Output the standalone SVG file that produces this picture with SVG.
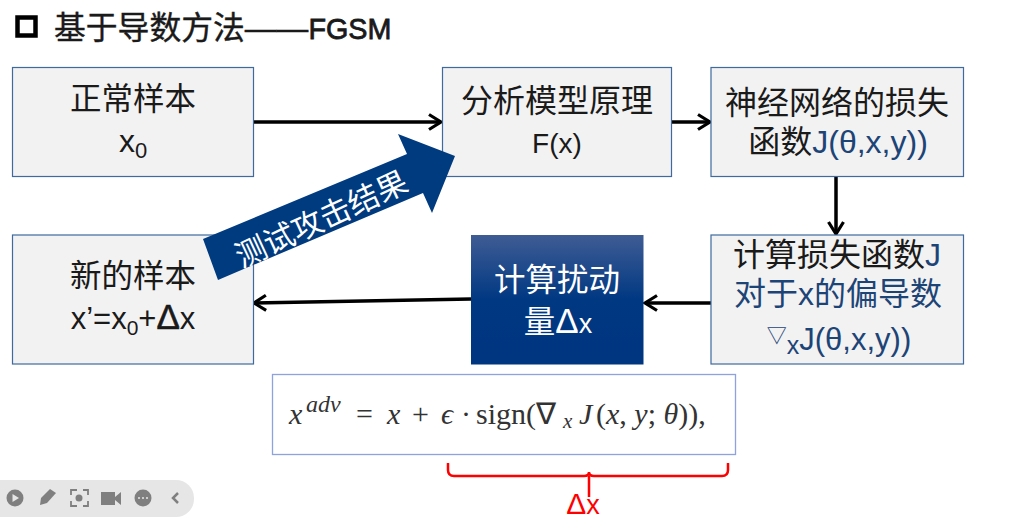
<svg xmlns="http://www.w3.org/2000/svg" width="1020" height="520" viewBox="0 0 1020 520">
<defs>
<linearGradient id="dk" x1="0" y1="0" x2="0" y2="1"><stop offset="0" stop-color="#3f5c94"/><stop offset="0.5" stop-color="#003882"/><stop offset="1" stop-color="#003580"/></linearGradient>
<marker id="ah" markerUnits="userSpaceOnUse" markerWidth="18" markerHeight="20" refX="15" refY="10" orient="auto"><path d="M3 2.500L15 10L3 17.500" fill="none" stroke="#000" stroke-width="3.200"/></marker>
</defs>
<style>
text{font-family:"Liberation Sans","Noto Sans CJK SC",sans-serif;fill:#1a1a1a;text-anchor:middle}
.box{fill:#f2f2f2;stroke:#3e6a9e;stroke-width:1.200}
.t{font-size:31.500px}
.blue{fill:#1d4477}
.c{fill:none;stroke:#000;stroke-width:3.500;marker-end:url(#ah)}
.w{fill:#fff}
.m{font-family:"Liberation Serif",serif;font-size:30px;fill:#333;text-anchor:start}
.i{font-style:italic}
.tb{fill:#7f7f7f}
</style>
<rect width="1020" height="520" fill="#fff"/>
<g id="title">
<rect x="17.500" y="17.500" width="18" height="18" fill="none" stroke="#000" stroke-width="4.500"/>
<text x="54" y="39" font-size="31.800" style="text-anchor:start;stroke:#1a1a1a;stroke-width:.4">基于导数方法——<tspan font-size="30" textLength="83" lengthAdjust="spacingAndGlyphs" style="stroke-width:.8">FGSM</tspan></text>
</g>
<g id="connectors">
<path class="c" d="M254 122H441"/>
<path class="c" d="M672 122H710"/>
<path class="c" d="M836 177V234"/>
<path class="c" d="M711 303H645"/>
<path class="c" d="M471 299L254 303"/>
</g>
<g id="normal-sample">
<rect class="box" x="12.500" y="67.500" width="241" height="109"/>
<text class="t" x="133" y="110">正常样本</text>
<text class="t" x="133" y="152" style="font-size:32px">x<tspan font-size="22" dy="6">0</tspan></text>
</g>
<g id="model">
<rect class="box" x="442.500" y="67.500" width="229" height="109"/>
<text class="t" x="557" y="112" style="font-size:32px">分析模型原理</text>
<text class="t" x="557" y="153" style="font-size:28px">F(x)</text>
</g>
<g id="loss">
<rect class="box" x="711" y="67.500" width="252.500" height="109"/>
<text class="t" x="837" y="114" style="font-size:32px">神经网络的损失</text>
<text class="t" x="838" y="153" style="font-size:32px">函数<tspan class="blue">J(θ,x,y))</tspan></text>
</g>
<g id="gradient">
<rect class="box" x="711" y="235" width="252.500" height="129"/>
<text class="t" x="837" y="266" style="font-size:32px">计算损失函数<tspan class="blue">J</tspan></text>
<text class="t blue" x="838" y="305" style="font-size:32px">对于x的偏导数</text>
<text class="t" x="839" y="350" style="font-size:31px"><tspan class="blue" font-size="20" dy="-7">▽</tspan><tspan class="blue" font-size="25" dy="11">x</tspan><tspan class="blue" dy="-4">J(θ,x,y))</tspan></text>
</g>
<g id="perturbation">
<rect x="471" y="235" width="172.500" height="129.500" fill="url(#dk)"/>
<text class="t w" x="557" y="291">计算扰动</text>
<text class="t w" x="558" y="333">量<tspan font-size="35">Δ</tspan><tspan font-size="27">x</tspan></text>
</g>
<g id="new-sample">
<rect class="box" x="12.500" y="235" width="241" height="129"/>
<text class="t" x="133" y="287">新的样本</text>
<text class="t" x="133" y="329" style="font-size:31px">x’=x<tspan font-size="21" dy="6">0</tspan><tspan dy="-6">+</tspan><tspan font-size="35" style="stroke:#1a1a1a;stroke-width:.6">Δ</tspan>x</text>
</g>
<g id="test-arrow">
<polygon points="203,239 407,154 398,134 455,156 432,213 423,193 218,280" fill="#003b80"/>
<text class="w" font-size="31" transform="translate(326 229) rotate(-25)">测试攻击结果</text>
</g>
<g id="formula">
<rect x="272.500" y="374.500" width="463" height="80" fill="#fff" stroke="#8ea2de" stroke-width="1.300"/>
<text class="m" x="289" y="424"><tspan class="i">x</tspan><tspan class="i" font-size="24" dy="-12" x="306">adv</tspan><tspan dy="12" x="356">=</tspan><tspan class="i" x="387">x</tspan><tspan x="412">+</tspan><tspan class="i" x="441">ϵ</tspan><tspan x="461">·</tspan><tspan x="476">sign(∇</tspan><tspan class="i" font-size="21" dy="4" x="563">x</tspan><tspan class="i" dy="-4" x="579">J</tspan><tspan x="596">(</tspan><tspan class="i">x</tspan><tspan>, </tspan><tspan class="i">y</tspan><tspan>; </tspan><tspan class="i">θ</tspan><tspan>)),</tspan></text>
</g>
<g id="delta-brace">
<path d="M448 463V470Q448 476 454 476H584Q589 476 589 472Q589 476 594 476H722Q728 476 728 470V463M589 476V497" fill="none" stroke="#f00" stroke-width="2.500"/>
<text x="583" y="514" font-size="30" style="fill:#f00">Δ<tspan font-size="27">x</tspan></text>
</g>
<g id="toolbar">
<rect x="-20" y="480" width="214" height="37" rx="18" fill="#e6e6e6"/>
<circle cx="15" cy="498" r="8.500" class="tb"/><path d="M12.500 494L19 498L12.500 502Z" fill="#e6e6e6"/>
<path d="M40 505L41 498L50 489L56 493L47 503Z" class="tb"/>
<path d="M71 495V490H77M83 490H88V495M88 501V506H83M77 506H71V501" fill="none" stroke="#7f7f7f" stroke-width="1.800"/><circle cx="79" cy="498" r="3.500" class="tb"/>
<path d="M101 492H115V497L121 492V505L115 500V505H101Z" class="tb"/>
<circle cx="143" cy="498" r="8.500" class="tb"/><g fill="#e6e6e6"><circle cx="139" cy="498" r="1"/><circle cx="143" cy="498" r="1"/><circle cx="147" cy="498" r="1"/></g>
<path d="M178 493L173 498L178 503" fill="none" stroke="#7f7f7f" stroke-width="2.500"/>
</g>
</svg>
